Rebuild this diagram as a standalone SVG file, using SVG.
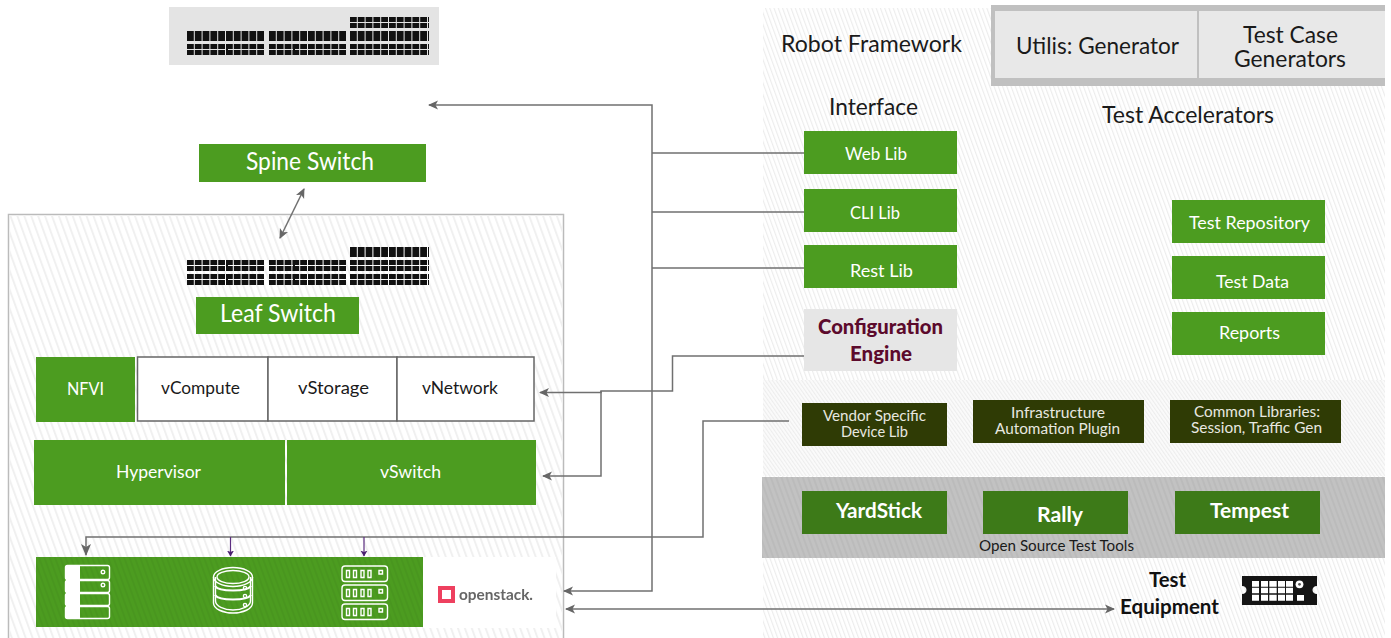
<svg xmlns="http://www.w3.org/2000/svg" width="1391" height="638" viewBox="0 0 1391 638">
<style>
text{font-family:"Lato","Liberation Sans",sans-serif;}
.t{fill:#1a1a1a;font-size:24px}
.w{fill:#fff;font-size:18px}
.b{font-weight:700}
.sm{font-size:15.5px;fill:#e8e8e0}
.g{fill:#4c9c20}
.dg{fill:#3d7a18}
.ol{fill:#2f3b05}
.cell{fill:#fff;stroke:#666;stroke-width:1.5}
.c{fill:none;stroke:#707070;stroke-width:1.5}
.p{fill:none;stroke:#5c2d80;stroke-width:1.2}
.port{stroke:#111;stroke-dasharray:6.8 1;fill:none}
.ic{fill:none;stroke:#fff;stroke-width:1.4}
</style>
<defs>
<pattern id="h1" width="6.5" height="20" patternUnits="userSpaceOnUse" patternTransform="rotate(-20)"><rect width="2" height="20" fill="#f0f0f0"/></pattern>
<pattern id="h2" width="4" height="20" patternUnits="userSpaceOnUse" patternTransform="rotate(-20)"><rect width="1.2" height="20" fill="#ececec"/></pattern>
<pattern id="h3" width="3" height="3" patternUnits="userSpaceOnUse" patternTransform="rotate(-35)"><rect width="3" height="3" fill="#fbfbfb"/><rect width="1.1" height="3" fill="#ededed"/></pattern>
<pattern id="h4" width="5" height="20" patternUnits="userSpaceOnUse" patternTransform="rotate(-20)"><rect width="2" height="20" fill="#000" fill-opacity=".035"/></pattern>
<filter id="soft"><feGaussianBlur stdDeviation="0.45"/></filter>
<marker id="a" markerWidth="14" markerHeight="12" refX="11" refY="5" orient="auto-start-reverse" markerUnits="userSpaceOnUse"><path d="M0 0L12 5L0 10L3 5Z" fill="#666"/></marker>
<marker id="am" markerWidth="14" markerHeight="12" refX="9" refY="5" orient="auto-start-reverse" markerUnits="userSpaceOnUse"><path d="M0 0.5L10 5L0 9.5L2.500 5Z" fill="#666"/></marker>
<marker id="ap" markerWidth="8" markerHeight="8" refX="5.500" refY="3.500" orient="auto" markerUnits="userSpaceOnUse"><path d="M0 0L6 3.500L0 7L1.500 3.500Z" fill="#4a2070"/></marker>
</defs>

<g id="backgrounds">
<rect x="763" y="8" width="622" height="630" fill="url(#h2)"/>
<rect x="8.500" y="214.500" width="555" height="430" fill="#fff" stroke="#bbb" stroke-width="1.500"/>
<rect x="9" y="215" width="554" height="423" fill="url(#h1)"/>
<rect x="763" y="380" width="622" height="96" fill="url(#h3)"/>
<rect x="762" y="477" width="623" height="81" fill="#c2c2c2"/>
<rect x="762" y="477" width="623" height="81" fill="url(#h4)"/>
<rect x="423" y="557" width="133" height="71" fill="#fff"/>
</g>

<g id="spine-icon">
<rect x="169" y="7" width="270" height="58" fill="#e4e4e4"/>
<path class="port" stroke-width="5" d="M350 19.500H429M350 25.500H429M187 46.500H265M269 46.500H347M350 46.500H429M187 52.500H265M269 52.500H347M350 52.500H429"/>
<path class="port" stroke-width="10" d="M187 36H265M269 36H347M350 36H429"/>
<path stroke="#111" fill="none" d="M227 31V41M227 44V55M294 31V41M294 44V55" stroke-width="2"/>
</g>

<g id="leaf-icon">
<path class="port" stroke-width="5" d="M187 262.500H265M269 262.500H347M350 262.500H429M187 268.500H265M269 268.500H347M350 268.500H429M187 276.500H265M269 276.500H347M350 276.500H429M187 282.500H265M269 282.500H347M350 282.500H429"/>
<path class="port" stroke-width="10" d="M350 252H429"/>
<path stroke="#111" fill="none" d="M227 260V271M227 274V285M294 260V271M294 274V285" stroke-width="2"/>
</g>

<g id="spine-switch"><rect class="g" x="199" y="144" width="227" height="38"/><text class="w" x="246" y="170" style="font-size:25px" textLength="128" lengthAdjust="spacingAndGlyphs">Spine Switch</text></g>
<g id="leaf-switch"><rect class="g" x="196" y="297" width="163" height="37"/><text class="w" x="220" y="322" style="font-size:25px" textLength="116" lengthAdjust="spacingAndGlyphs">Leaf Switch</text></g>

<g id="nfvi"><rect class="g" x="36" y="357" width="99" height="65"/><text class="w" x="67" y="395" textLength="37" lengthAdjust="spacingAndGlyphs">NFVI</text></g>
<g id="vcompute"><rect class="cell" x="137.500" y="357" width="130.500" height="64"/><text x="161" y="394" style="font-size:18px;fill:#1a1a1a" textLength="79" lengthAdjust="spacingAndGlyphs">vCompute</text></g>
<g id="vstorage"><rect class="cell" x="268" y="357" width="129" height="64"/><text x="298" y="394" style="font-size:18px;fill:#1a1a1a" textLength="71" lengthAdjust="spacingAndGlyphs">vStorage</text></g>
<g id="vnetwork"><rect class="cell" x="397" y="357" width="137" height="64"/><text x="422" y="394" style="font-size:18px;fill:#1a1a1a" textLength="76" lengthAdjust="spacingAndGlyphs">vNetwork</text></g>
<g id="hypervisor"><rect class="g" x="34" y="440" width="251" height="65"/><text class="w" x="116" y="478" textLength="85" lengthAdjust="spacingAndGlyphs">Hypervisor</text></g>
<g id="vswitch"><rect class="g" x="287" y="440" width="249" height="65"/><text class="w" x="380" y="478" textLength="61" lengthAdjust="spacingAndGlyphs">vSwitch</text></g>

<g id="infrastructure">
<rect class="g" x="36" y="557" width="387" height="70"/>
<rect x="36" y="557" width="387" height="70" fill="url(#h4)"/>
<g id="server-icon">
<rect class="ic" x="65.500" y="565.500" width="44" height="14" rx="2"/><rect class="ic" x="65.500" y="580.500" width="44" height="12" rx="2"/><rect class="ic" x="65.500" y="593.500" width="44" height="12" rx="2"/><rect class="ic" x="65.500" y="606.500" width="44" height="12" rx="2"/>
<path fill="#fff" d="M66 566H80V618H66Z"/>
<circle class="ic" cx="103" cy="572" r="1.800"/><circle class="ic" cx="103" cy="585" r="1.800"/>
</g>
<g id="database-icon">
<ellipse class="ic" cx="233" cy="577" rx="19.500" ry="9.500"/><ellipse class="ic" cx="233" cy="577" rx="16" ry="6.500"/>
<path class="ic" d="M213.500 577V603C213.500 609 223 613 233 613S252.500 609 252.500 603V577"/>
<path class="ic" d="M215.500 577V601C215.500 606 224 610 233 610S250.500 606 250.500 601V577"/>
<path d="M215 586C219 592 247 592 251 586M215 595C219 601 247 601 251 595" fill="none" stroke="#fff" stroke-width="2.200"/>
<circle class="ic" cx="245" cy="588" r="1.600"/><circle class="ic" cx="245" cy="596" r="1.600"/><circle class="ic" cx="245" cy="605" r="1.600"/>
</g>
<g id="rack-icon">
<rect class="ic" x="342" y="566" width="45.500" height="15.500" rx="3"/><rect class="ic" x="342" y="585" width="45.500" height="15.500" rx="3"/><rect class="ic" x="342" y="604" width="45.500" height="15.500" rx="3"/>
<path class="ic" stroke-width="1.200" d="M346.500 570.500h3v7h-3zM353.500 570.500h3v7h-3zM361 570.500h3v7h-3zM368 570.500h3v7h-3zM379 570.500h3.500v3.500h-3.500zM346.500 589.500h3v7h-3zM353.500 589.500h3v7h-3zM361 589.500h3v7h-3zM368 589.500h3v7h-3zM379 589.500h3.500v3.500h-3.500zM346.500 608.500h3v7h-3zM353.500 608.500h3v7h-3zM361 608.500h3v7h-3zM368 608.500h3v7h-3zM379 608.500h3.500v3.500h-3.500z"/>
</g>
</g>

<g id="openstack" filter="url(#soft)"><rect x="440" y="588" width="13" height="13" fill="none" stroke="#ee3f5e" stroke-width="4"/><text x="459" y="600" style="font-size:16px;fill:#666;font-weight:700" textLength="74" lengthAdjust="spacingAndGlyphs">openstack.</text></g>

<g id="title"><text class="t" x="781" y="52" textLength="181" lengthAdjust="spacingAndGlyphs">Robot Framework</text></g>
<g id="generators">
<rect x="991" y="5" width="394" height="81" fill="#c0c0c0"/>
<rect x="995" y="11" width="202" height="67" fill="#e8e8e8"/>
<rect x="1199" y="11" width="186" height="67" fill="#e8e8e8"/>
<text class="t" x="1016" y="54" textLength="163" lengthAdjust="spacingAndGlyphs">Utilis: Generator</text>
<text class="t" x="1243" y="43" textLength="95" lengthAdjust="spacingAndGlyphs">Test Case</text>
<text class="t" x="1234" y="67" textLength="112" lengthAdjust="spacingAndGlyphs">Generators</text>
</g>
<g id="interface-label"><text class="t" x="829" y="115" textLength="89" lengthAdjust="spacingAndGlyphs">Interface</text></g>
<g id="accelerators-label"><text class="t" x="1102" y="123" textLength="172" lengthAdjust="spacingAndGlyphs">Test Accelerators</text></g>

<g id="web-lib"><rect class="g" x="804" y="131" width="153" height="43"/><text class="w" x="845" y="160" textLength="62" lengthAdjust="spacingAndGlyphs">Web Lib</text></g>
<g id="cli-lib"><rect class="g" x="804" y="189" width="153" height="43"/><text class="w" x="850" y="219" textLength="50" lengthAdjust="spacingAndGlyphs">CLI Lib</text></g>
<g id="rest-lib"><rect class="g" x="804" y="245" width="153" height="43"/><text class="w" x="850" y="277" textLength="63" lengthAdjust="spacingAndGlyphs">Rest Lib</text></g>
<g id="config-engine"><rect x="804" y="309" width="153" height="62" fill="#e6e6e6"/>
<text x="818" y="334" style="font-size:21px;fill:#5c0a2c;font-weight:900" textLength="125" lengthAdjust="spacingAndGlyphs">Configuration</text>
<text x="850" y="361" style="font-size:21px;fill:#5c0a2c;font-weight:900" textLength="62" lengthAdjust="spacingAndGlyphs">Engine</text></g>

<g id="test-repository"><rect class="g" x="1172" y="200" width="153" height="43"/><text class="w" x="1189" y="229" textLength="121" lengthAdjust="spacingAndGlyphs">Test Repository</text></g>
<g id="test-data"><rect class="g" x="1172" y="256" width="153" height="43"/><text class="w" x="1216" y="288" textLength="73" lengthAdjust="spacingAndGlyphs">Test Data</text></g>
<g id="reports"><rect class="g" x="1172" y="312" width="153" height="43"/><text class="w" x="1219" y="339" textLength="61" lengthAdjust="spacingAndGlyphs">Reports</text></g>

<g id="vendor-lib"><rect class="ol" x="802" y="403" width="145" height="43"/><text class="sm" x="823" y="421" textLength="103" lengthAdjust="spacingAndGlyphs">Vendor Specific</text><text class="sm" x="841" y="437" textLength="67" lengthAdjust="spacingAndGlyphs">Device Lib</text></g>
<g id="infra-plugin"><rect class="ol" x="973" y="400" width="171" height="43"/><text class="sm" x="1011" y="418" textLength="94" lengthAdjust="spacingAndGlyphs">Infrastructure</text><text class="sm" x="995" y="434" textLength="125" lengthAdjust="spacingAndGlyphs">Automation Plugin</text></g>
<g id="common-libs"><rect class="ol" x="1170" y="400" width="171" height="43"/><text class="sm" x="1194" y="417" textLength="126" lengthAdjust="spacingAndGlyphs">Common Libraries:</text><text class="sm" x="1191" y="433" textLength="131" lengthAdjust="spacingAndGlyphs">Session, Traffic Gen</text></g>

<g id="yardstick"><rect class="dg" x="802" y="491" width="145" height="43"/><text class="w b" x="836" y="518" style="font-size:20px" textLength="86" lengthAdjust="spacingAndGlyphs">YardStick</text></g>
<g id="rally"><rect class="dg" x="983" y="491" width="145" height="43"/><text class="w b" x="1037" y="522" style="font-size:20px" textLength="46" lengthAdjust="spacingAndGlyphs">Rally</text></g>
<g id="tempest"><rect class="dg" x="1175" y="491" width="145" height="43"/><text class="w b" x="1210" y="518" style="font-size:20px" textLength="79" lengthAdjust="spacingAndGlyphs">Tempest</text></g>
<g id="open-source-label"><text x="979" y="551" style="font-size:15px;fill:#1a1a1a" textLength="155" lengthAdjust="spacingAndGlyphs">Open Source Test Tools</text></g>

<g id="test-equipment">
<text x="1149" y="587" class="b" style="font-size:20px;fill:#111" textLength="37" lengthAdjust="spacingAndGlyphs">Test</text>
<text x="1120" y="614" class="b" style="font-size:20px;fill:#111" textLength="99" lengthAdjust="spacingAndGlyphs">Equipment</text>
<path fill="#151515" d="M1242 576H1317V586C1311 586 1311 594 1317 594V605H1242V594C1248 594 1248 586 1242 586Z"/>
<path fill="#fff" d="M1252 581h7v5.700h-7zM1261 581h7v5.700h-7zM1269.300 581h7.400v5.700h-7.400zM1278 581h7v5.700h-7zM1286 581h7v5.700h-7zM1252 587.700h7v5.600h-7zM1261 587.700h7v5.600h-7zM1269.300 587.700h7.400v5.600h-7.400zM1278 587.700h7v5.600h-7zM1286 587.700h7v5.600h-7zM1252 594.700h7v6h-7zM1261 594.700h7v6h-7zM1269.300 594.700h7.400v6h-7.400zM1278 594.700h7v6h-7zM1286 594.700h7v6h-7zM1297 595h7v5.700h-7z"/>
<circle cx="1299.500" cy="584.300" r="3.900" fill="#fff"/><circle cx="1299.500" cy="584.300" r="1.400" fill="#555"/>
</g>

<g id="connectors">
<path class="c" marker-end="url(#am)" d="M652 153V105H429"/>
<path class="c" d="M804 153H652M804 212H652M804 268H652"/>
<path class="c" marker-end="url(#am)" d="M652 153V591H564"/>
<path class="c" marker-end="url(#am)" d="M804 356H672.500V391H601V392.500H540"/>
<path class="c" marker-end="url(#am)" d="M601 391V476H543"/>
<path class="c" marker-end="url(#a)" d="M789 421H703V537H86V555"/>
<path class="p" marker-end="url(#ap)" d="M230.500 537V556"/>
<path class="p" marker-end="url(#ap)" d="M364 537V556"/>
<path class="c" marker-start="url(#am)" marker-end="url(#am)" d="M304 189L280 238"/>
<path class="c" marker-start="url(#am)" marker-end="url(#am)" d="M566 609H1114"/>
</g>
</svg>
